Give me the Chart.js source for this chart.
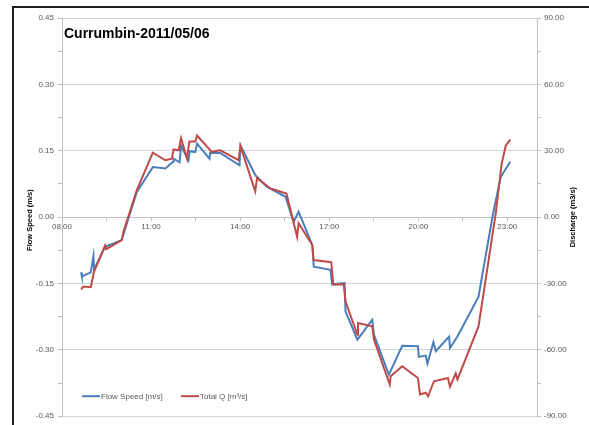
<!DOCTYPE html>
<html>
<head>
<meta charset="utf-8">
<script src="https://cdn.jsdelivr.net/npm/chart.js@4.4.1/dist/chart.umd.min.js"></script>
<style>
  html, body { margin: 0; padding: 0; background: #fff; }
  #wrap { width: 589px; height: 425px; }
</style>
</head>
<body>
<div id="wrap"><canvas id="flowChart" width="589" height="425"></canvas></div>
<script>
// chart values (time in decimal hours)
const chartTitle = 'Currumbin-2011/05/06';
const speedLabel = 'Flow Speed [m/s]';
const dischargeLabel = 'Total Q [m\u00b3/s]';
const speedAxisTitle = 'Flow Speed (m/s)';
const dischargeAxisTitle = 'Discharge (m3/s)';

const speedHours = [8.64, 8.67, 8.97, 9.06, 9.08, 9.45, 10.01, 10.52, 11.06, 11.48, 11.74, 11.76, 11.96, 12.01,
  12.26, 12.30, 12.49, 12.55, 12.97, 12.99, 13.33, 13.98, 14.01, 14.51, 14.91, 15.53, 15.80, 15.97, 16.43,
  16.48, 17.04, 17.10, 17.52, 17.55, 17.95, 18.45, 18.51, 19.01, 19.46, 19.99, 20.02, 20.25, 20.31, 20.51,
  20.59, 21.04, 21.07, 21.32, 22.03, 22.52, 22.78, 23.10];
const speedValues = [-0.125, -0.134, -0.125, -0.088, -0.119, -0.067, -0.052, 0.057, 0.113, 0.110, 0.125, 0.132,
  0.124, 0.161, 0.128, 0.149, 0.147, 0.166, 0.132, 0.145, 0.145, 0.117, 0.162, 0.095, 0.068, 0.046, -0.011,
  0.012, -0.063, -0.112, -0.119, -0.152, -0.149, -0.213, -0.277, -0.232, -0.266, -0.356, -0.291, -0.292,
  -0.316, -0.313, -0.331, -0.283, -0.303, -0.270, -0.296, -0.270, -0.180, 0.008, 0.091, 0.125];

const dischargeHours = [8.64, 8.72, 8.97, 9.08, 9.45, 9.49, 10.01, 10.07, 10.52, 11.06, 11.48, 11.70, 11.76,
  11.93, 12.01, 12.21, 12.29, 12.49, 12.55, 12.97, 13.03, 13.33, 13.95, 14.01, 14.51, 14.57, 15.02, 15.56,
  15.92, 15.97, 16.43, 16.48, 17.07, 17.14, 17.49, 17.55, 17.95, 17.97, 18.45, 18.51, 19.04, 19.07, 19.46,
  19.99, 20.06, 20.25, 20.33, 20.53, 21.00, 21.07, 21.26, 21.32, 22.03, 22.61, 22.81, 22.95, 23.10];
const dischargeValues = [-32.6, -31.4, -31.7, -24.6, -12.9, -14.5, -10.4, -6.6, 12.2, 29.1, 25.7, 26.4, 30.6,
  30.2, 35.7, 26.4, 34.2, 34.2, 36.9, 30.6, 29.5, 30.2, 25.7, 32.1, 11.7, 17.6, 12.9, 10.7, -8.9, -2.8,
  -12.6, -19.4, -20.4, -30.6, -30.3, -38.2, -53.2, -47.9, -49.4, -55.4, -75.7, -71.9, -67.4, -72.7, -80.2,
  -79.4, -80.9, -74.2, -72.7, -76.7, -70.7, -73.4, -49.4, 1.7, 24.2, 32.4, 35.0];

const xTickHours = [8, 11, 14, 17, 20, 23];
const speedTicks = [-0.45, -0.30, -0.15, 0, 0.15, 0.30, 0.45];
const dischargeTicks = [-90, -60, -30, 0, 30, 60, 90];

const BLUE = '#4a7ebb';
const RED = '#be4b48';
const TICK_GREY = '#595959';
const AXIS_GREY = '#bfbfbf';
const FONT = '"Liberation Sans", Arial, sans-serif';

function withMinors(majors) {
    // major ticks plus a minor tick half way between each pair
    const out = [];
    majors.forEach((v, i) => {
        out.push({ value: v });
        if (i < majors.length - 1) out.push({ value: (v + majors[i + 1]) / 2 });
    });
    return out;
}

function isIn(list, v) {
    return list.some(t => Math.abs(t - v) < 1e-6);
}

function pad2(n) {
    return (n < 10 ? '0' : '') + n;
}

// frame, title, axis titles and the legend inside the plot
const decor = {
    id: 'decor',
    beforeDraw(chart) {
        const c = chart.ctx;
        c.save();
        c.fillStyle = '#fff';
        c.fillRect(0, 0, chart.width, chart.height);
        c.fillStyle = '#1e1e1e';
        c.fillRect(12, 6, chart.width - 12, 2);
        c.fillRect(12, 6, 2, chart.height - 6);
        c.restore();
    },
    afterDraw(chart) {
        const c = chart.ctx;
        const a = chart.chartArea;
        const midY = (a.top + a.bottom) / 2;
        c.save();

        c.fillStyle = '#000';
        c.font = 'bold 14px ' + FONT;
        c.textAlign = 'left';
        c.textBaseline = 'alphabetic';
        c.fillText(chartTitle, a.left + 2, a.top + 19.5);

        c.font = 'bold 7.5px ' + FONT;
        c.textAlign = 'center';
        c.textBaseline = 'middle';
        c.save();
        c.translate(30, midY + 3);
        c.rotate(-Math.PI / 2);
        c.fillText(speedAxisTitle, 0, 0);
        c.restore();
        c.save();
        c.translate(573, midY);
        c.rotate(-Math.PI / 2);
        c.fillText(dischargeAxisTitle, 0, 0);
        c.restore();

        // legend
        const items = [
            { ds: chart.data.datasets[0], x: 82 },
            { ds: chart.data.datasets[1], x: 181 }
        ];
        const ly = a.bottom - 20;
        c.font = '8px ' + FONT;
        c.textAlign = 'left';
        items.forEach(it => {
            c.strokeStyle = it.ds.borderColor;
            c.lineWidth = 2;
            c.beginPath();
            c.moveTo(it.x, ly);
            c.lineTo(it.x + 18, ly);
            c.stroke();
            c.fillStyle = TICK_GREY;
            c.fillText(it.ds.label, it.x + 19, ly + 0.5);
        });
        c.restore();
    }
};

const ctx = document.getElementById('flowChart').getContext('2d');

new Chart(ctx, {
    type: 'line',
    data: {
        datasets: [
            {
                label: speedLabel,
                data: speedHours.map((h, i) => ({ x: h, y: speedValues[i] })),
                borderColor: BLUE,
                backgroundColor: BLUE,
                borderWidth: 2,
                pointRadius: 0,
                tension: 0,
                yAxisID: 'y',
                order: 2
            },
            {
                label: dischargeLabel,
                data: dischargeHours.map((h, i) => ({ x: h, y: dischargeValues[i] })),
                borderColor: RED,
                backgroundColor: RED,
                borderWidth: 2,
                pointRadius: 0,
                tension: 0,
                yAxisID: 'y2',
                order: 1
            }
        ]
    },
    options: {
        responsive: false,
        animation: false,
        devicePixelRatio: 1,
        layout: { padding: { top: 18, bottom: 7, left: 0, right: 0 } },
        plugins: {
            legend: { display: false },
            tooltip: { enabled: false },
            title: { display: false }
        },
        scales: {
            x: {
                type: 'linear',
                position: { y: 0 },
                min: 8,
                max: 24,
                afterBuildTicks: s => { s.ticks = withMinors(xTickHours); },
                grid: { drawOnChartArea: false, color: AXIS_GREY, tickLength: 3 },
                border: { color: AXIS_GREY },
                ticks: {
                    autoSkip: false,
                    maxRotation: 0,
                    padding: 2,
                    color: TICK_GREY,
                    font: { family: FONT, size: 8 },
                    callback: v => isIn(xTickHours, v) ? pad2(v) + ':00' : ''
                }
            },
            y: {
                position: 'left',
                min: -0.45,
                max: 0.45,
                afterBuildTicks: s => { s.ticks = withMinors(speedTicks); },
                afterFit: s => { s.width = 62; },
                grid: {
                    color: g => (g.tick && isIn(speedTicks, g.tick.value)) ? '#d4d4d4' : 'rgba(0,0,0,0)',
                    tickColor: AXIS_GREY,
                    tickLength: 4
                },
                border: { color: AXIS_GREY },
                ticks: {
                    autoSkip: false,
                    padding: 4,
                    color: TICK_GREY,
                    font: { family: FONT, size: 8 },
                    callback: v => isIn(speedTicks, v) ? v.toFixed(2) : ''
                }
            },
            y2: {
                position: 'right',
                min: -90,
                max: 90,
                afterBuildTicks: s => { s.ticks = withMinors(dischargeTicks); },
                afterFit: s => { s.width = 52; },
                grid: { drawOnChartArea: false, color: AXIS_GREY, tickLength: 4 },
                border: { color: AXIS_GREY },
                ticks: {
                    autoSkip: false,
                    padding: 3,
                    color: TICK_GREY,
                    font: { family: FONT, size: 8 },
                    callback: v => isIn(dischargeTicks, v) ? v.toFixed(2) : ''
                }
            }
        }
    },
    plugins: [decor]
});
</script>
</body>
</html>
